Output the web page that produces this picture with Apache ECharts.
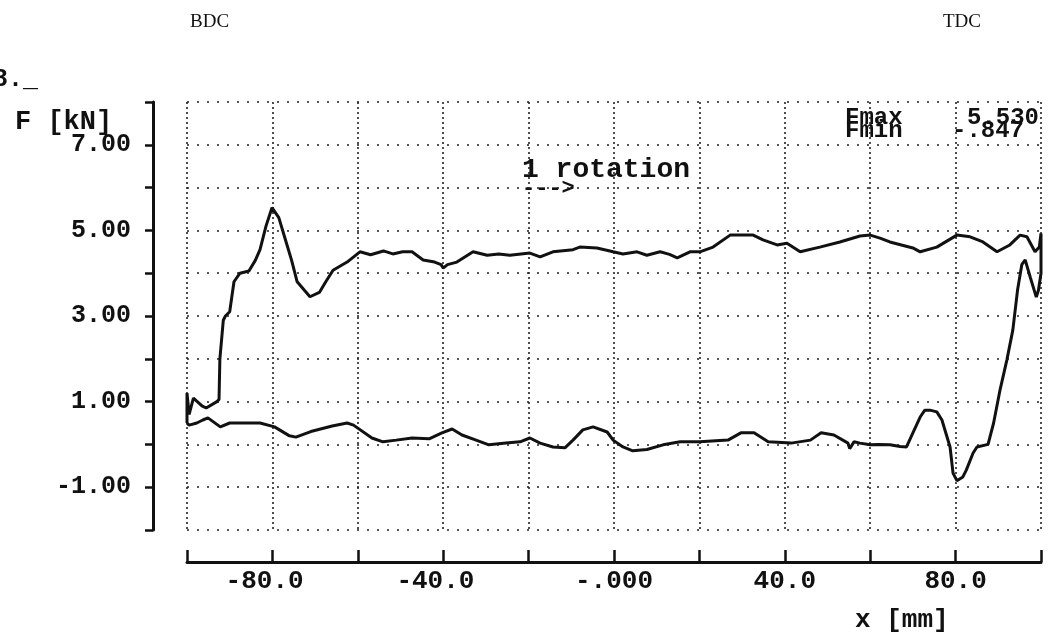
<!DOCTYPE html>
<html>
<head>
<meta charset="utf-8">
<script src="https://cdn.jsdelivr.net/npm/echarts@6/dist/echarts.min.js"></script>
<style>
  html, body { margin: 0; padding: 0; background: #fff; }
  #chart { width: 1053px; height: 634px; }
</style>
</head>
<body>
<div id="chart"></div>
<script>
// stroke position x [mm] vs force F [kN]
const upperCurve = [
    [-100, 0.5], [-100, 1.2], [-99.5, 0.7], [-98.5, 1.08], [-96.5, 0.9], [-95.5, 0.85], [-93, 1.0],
    [-92.5, 1.05], [-92.3, 2.0], [-91.5, 2.9], [-91, 3.0], [-90, 3.1], [-89, 3.8], [-87.6, 4.0],
    [-85.5, 4.05], [-84, 4.3], [-82.9, 4.55], [-81.5, 5.1], [-80.1, 5.53], [-78.5, 5.3], [-77, 4.8],
    [-75.5, 4.3], [-74.2, 3.8], [-72.5, 3.6], [-71.2, 3.45], [-69, 3.55], [-67.5, 3.8], [-65.8, 4.07],
    [-62.5, 4.26], [-59.5, 4.5], [-57, 4.43], [-54, 4.52], [-51.8, 4.45], [-49.5, 4.5], [-47.3, 4.5],
    [-44.7, 4.31], [-42, 4.26], [-40.5, 4.2], [-40, 4.12], [-39, 4.2], [-36.8, 4.26], [-33, 4.5],
    [-29.7, 4.42], [-27, 4.45], [-24.4, 4.42], [-19.7, 4.47], [-17.3, 4.38], [-14.3, 4.5], [-9.6, 4.55],
    [-8, 4.61], [-4, 4.59], [-0.2, 4.5], [2.1, 4.45], [5.4, 4.5], [7.7, 4.42], [10.8, 4.5], [13, 4.44],
    [14.8, 4.36], [17.8, 4.5], [20.1, 4.5], [23.2, 4.61], [27.2, 4.89], [32.6, 4.89], [34.9, 4.78],
    [38.2, 4.66], [40.5, 4.7], [43.6, 4.5], [48.2, 4.61], [52.9, 4.73], [57.6, 4.87], [60, 4.89],
    [62.3, 4.82], [64.6, 4.73], [70, 4.59], [71.7, 4.5], [75.6, 4.61], [80.3, 4.89], [83.4, 4.85],
    [86.4, 4.73], [89.7, 4.5], [92.7, 4.66], [95.1, 4.89], [96.7, 4.85], [98.6, 4.5], [99.6, 4.61],
    [100, 4.93]
]
const lowerCurve = [
    [100, 4.0], [99.4, 3.6], [98.9, 3.44], [97.5, 3.9], [96.3, 4.31], [95.5, 4.2], [94.5, 3.6],
    [93.4, 2.67], [92, 1.97], [90.4, 1.27], [88.9, 0.5], [87.6, 0.0], [85, -0.06], [84.1, -0.2],
    [82.5, -0.6], [81.7, -0.76], [80.3, -0.847], [79.4, -0.67], [78.7, -0.06], [76.8, 0.57],
    [75.6, 0.76], [74, 0.8], [72.8, 0.8], [71.7, 0.64], [70, 0.27], [68.5, -0.06], [67, -0.05],
    [64.6, -0.01], [62, 0.0], [60, -0.01], [57.6, 0.03], [56.2, 0.06], [55.2, -0.1], [54.8, 0.03],
    [51.5, 0.22], [48.5, 0.27], [46, 0.1], [41.5, 0.03], [36.1, 0.06], [32.8, 0.27], [29.7, 0.27],
    [26.7, 0.1], [20.1, 0.06], [15.5, 0.06], [11.5, -0.01], [7.7, -0.12], [4.4, -0.15], [2.1, -0.06],
    [-0.2, 0.1], [-1.6, 0.29], [-4.9, 0.41], [-7.3, 0.34], [-9.6, 0.1], [-11.5, -0.08], [-14.3, -0.06],
    [-17.3, 0.03], [-19.7, 0.15], [-22, 0.06], [-25.3, 0.03], [-29.3, -0.01], [-32.3, 0.1],
    [-35.6, 0.22], [-37.9, 0.36], [-40.3, 0.27], [-43.3, 0.13], [-47.3, 0.15], [-51, 0.1],
    [-54.1, 0.06], [-56.7, 0.15], [-61, 0.45], [-62.5, 0.5], [-66, 0.43], [-71, 0.3], [-74.5, 0.17],
    [-76, 0.2], [-79.5, 0.41], [-82.9, 0.5], [-90, 0.5], [-92.2, 0.41], [-95.1, 0.62], [-96.3, 0.57],
    [-97.7, 0.5], [-99.5, 0.45], [-100, 0.5]
]

const xTickValues = [-80, -40, 0, 40, 80]
const xTickLabels = ['-80.0', '-40.0', '-.000', '40.0', '80.0']
const yTickValues = [7, 5, 3, 1, -1]
const yTickLabels = ['7.00', '5.00', '3.00', '1.00', '-1.00']

const mono = '"Liberation Mono", "DejaVu Sans Mono", monospace'
const ink = '#111'

const chart = echarts.init(document.getElementById('chart'))

const txt = (x, y, text, size, extra) => ({
    type: 'text',
    x: x,
    y: y,
    style: Object.assign({
        text: text,
        fill: ink,
        font: 'bold ' + size + 'px ' + mono,
        textVerticalAlign: 'middle',
    }, extra || {}),
})

chart.setOption({
    animation: false,
    backgroundColor: '#fff',
    grid: { left: 187, right: 12, top: 102, bottom: 104 },
    xAxis: {
        type: 'value',
        min: -100,
        max: 100,
        interval: 20,
        offset: 32,
        axisLine: { show: true, onZero: false, lineStyle: { color: ink, width: 3 } },
        axisTick: { show: true, inside: true, length: 12, lineStyle: { color: ink, width: 2.5 } },
        axisLabel: {
            margin: 6,
            color: ink,
            fontFamily: mono,
            fontWeight: 'bold',
            fontSize: 26,
            formatter: function (v) {
                const i = xTickValues.indexOf(v)
                if (i < 0) return ''
                // keep the digits centred on the tick, as in the print-out
                return v < 0 ? xTickLabels[i] + '\u00a0' : xTickLabels[i]
            },
        },
        splitLine: { show: true, lineStyle: { color: '#222', width: 1.6, type: [2, 3] } },
    },
    yAxis: {
        type: 'value',
        min: -2,
        max: 8,
        interval: 1,
        offset: 34,
        axisLine: { show: true, onZero: false, lineStyle: { color: ink, width: 3 } },
        axisTick: { show: true, length: 8, lineStyle: { color: ink, width: 2.5 } },
        axisLabel: {
            margin: 22,
            color: ink,
            fontFamily: mono,
            fontWeight: 'bold',
            fontSize: 25,
            formatter: function (v) {
                const i = yTickValues.indexOf(v)
                return i < 0 ? '' : yTickLabels[i]
            },
        },
        splitLine: { show: true, lineStyle: { color: '#222', width: 1.6, type: [2, 8] } },
    },
    series: [
        {
            type: 'line',
            data: upperCurve.concat(lowerCurve),
            showSymbol: false,
            lineStyle: { color: ink, width: 3 },
        },
    ],
    graphic: [
        { type: 'text', x: 190, y: 22, style: { text: 'BDC', fill: ink, font: '19px "Liberation Serif", serif', textVerticalAlign: 'middle' } },
        { type: 'text', x: 943, y: 22, style: { text: 'TDC', fill: ink, font: '19px "Liberation Serif", serif', textVerticalAlign: 'middle' } },
        txt(-7, 80, '8._', 25),
        txt(15, 122, 'F [kN]', 27),
        txt(845, 118, 'Fmax', 24),
        txt(967, 118, '5.530', 24),
        txt(845, 131, 'Fmin', 24),
        txt(952, 131, '-.847', 24),
        txt(522, 170, '1 rotation', 28),
        txt(522, 188, '--->', 22),
        txt(855, 620, 'x [mm]', 26),
    ],
})
</script>
</body>
</html>
